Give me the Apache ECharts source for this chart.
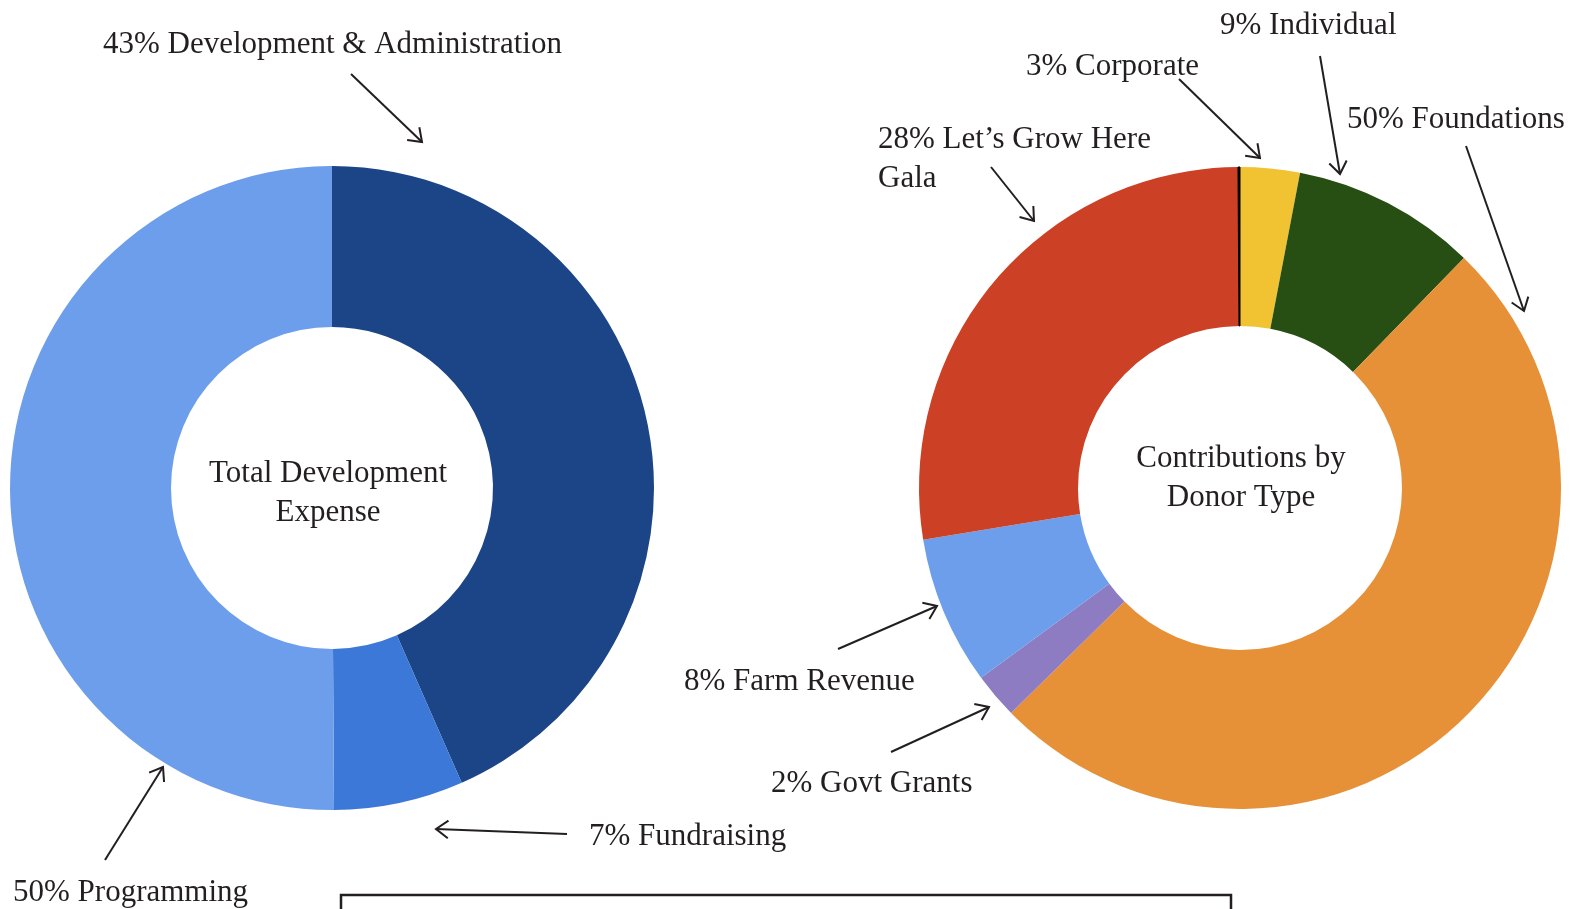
<!DOCTYPE html>
<html>
<head>
<meta charset="utf-8">
<script src="https://cdn.jsdelivr.net/npm/echarts@6/dist/echarts.min.js"></script>
<style>
    html, body { margin: 0; padding: 0; background: #fff; }
    #cn { width: 1583px; height: 909px; }
</style>
</head>
<body>
<div id="cn"></div>
<script>
'use strict';

// left donut: Total Development Expense
const devNames = ['Development & Administration', 'Fundraising', 'Programming'];
const devValues = [43.4, 6.5, 50.1];
const devColors = ['#1c4587', '#3c78d8', '#6d9eeb'];

// right donut: Contributions by Donor Type (last one is the thin black sliver at top)
const donorNames = ['Corporate', 'Individual', 'Foundations', 'Govt Grants', 'Farm Revenue', 'Let’s Grow Here\nGala', ''];
const donorValues = [3, 9.3, 50.4, 2.3, 7.5, 27.5, 0.1];
const donorColors = ['#f1c232', '#274e13', '#e69138', '#8e7cc3', '#6d9eeb', '#cc4125', '#000000'];

const centerTitles = ['Total Development\nExpense', 'Contributions by\nDonor Type'];

const strFont = '31px "Liberation Serif", "DejaVu Serif", serif';
const strInk = '#231f20';

// annotation layout: text anchor (left, middle) and arrow from -> to
const devNotes = [
    {x: 103, y: 45, from: [351, 74], to: [422, 142]},
    {x: 589, y: 837, from: [567, 834], to: [436, 829]},
    {x: 13, y: 893, from: [105, 860], to: [163, 767]}
];
const donorNotes = [
    {x: 1026, y: 67, from: [1179, 79], to: [1260, 158]},
    {x: 1220, y: 26, from: [1320, 56], to: [1340, 174]},
    {x: 1347, y: 120, from: [1466, 146], to: [1524, 311]},
    {x: 771, y: 784, from: [891, 752], to: [989, 707]},
    {x: 684, y: 682, from: [838, 649], to: [937, 606]},
    {x: 878, y: 159, from: [991, 167], to: [1034, 221]},
    null
];

const arrow = (from, to) => {
    const ang = Math.atan2(to[1] - from[1], to[0] - from[0]);
    const len = 15;
    const spread = Math.PI / 5;
    const p1 = [to[0] - len * Math.cos(ang - spread), to[1] - len * Math.sin(ang - spread)];
    const p2 = [to[0] - len * Math.cos(ang + spread), to[1] - len * Math.sin(ang + spread)];
    return [{
            type: 'line',
            silent: true,
            shape: {x1: from[0], y1: from[1], x2: to[0], y2: to[1]},
            style: {stroke: strInk, lineWidth: 2}
        },
        {
            type: 'polyline',
            silent: true,
            shape: {points: [p1, to, p2]},
            style: {stroke: strInk, lineWidth: 2, fill: null}
        }
    ];
}

const noteText = (txt, x, y, align) => ({
    type: 'text',
    silent: true,
    x: x,
    y: y,
    style: {
        text: txt,
        font: strFont,
        fill: strInk,
        textAlign: align,
        textVerticalAlign: 'middle',
        lineHeight: 39
    }
});

const buildNotes = (names, values, notes) => {
    let arr = [];
    names.forEach((name, i) => {
        const n = notes[i];
        if (!n) return;
        const txt = `${Math.round(values[i])}% ${name}`; // labels show rounded percents
        arr.push(noteText(txt, n.x, n.y, 'left'));
        arr = arr.concat(arrow(n.from, n.to));
    });
    return arr;
}

const arrGraphic = []
    .concat(buildNotes(devNames, devValues, devNotes))
    .concat(buildNotes(donorNames, donorValues, donorNotes))
    .concat([
        noteText(centerTitles[0], 328, 493, 'center'),
        noteText(centerTitles[1], 1241, 478, 'center'),
        {
            type: 'rect',
            silent: true,
            shape: {x: 341, y: 895, width: 890, height: 60},
            style: {stroke: strInk, lineWidth: 2.5, fill: null}
        }
    ]);

const toData = (names, values, colors) => names.map((name, i) => ({
    name: name,
    value: values[i],
    itemStyle: {
        color: colors[i],
        borderColor: colors[i] === '#000000' ? '#000000' : null, //sliver needs a border to be visible
        borderWidth: colors[i] === '#000000' ? 1 : 0
    }
}));

const optionChart = {
    animation: false,
    backgroundColor: '#ffffff',
    series: [{
            type: 'pie',
            center: [332, 488],
            radius: [161, 322],
            startAngle: 90,
            clockwise: true,
            silent: true,
            label: {show: false},
            labelLine: {show: false},
            data: toData(devNames, devValues, devColors)
        },
        {
            type: 'pie',
            center: [1240, 488],
            radius: [162, 321],
            startAngle: 90,
            clockwise: true,
            silent: true,
            label: {show: false},
            labelLine: {show: false},
            data: toData(donorNames, donorValues, donorColors)
        }
    ],
    graphic: arrGraphic
}

//main
{
    const echartsPanda = echarts.init(document.getElementById('cn'), null, {renderer: 'canvas'});
    echartsPanda.setOption(optionChart);
}
</script>
</body>
</html>
